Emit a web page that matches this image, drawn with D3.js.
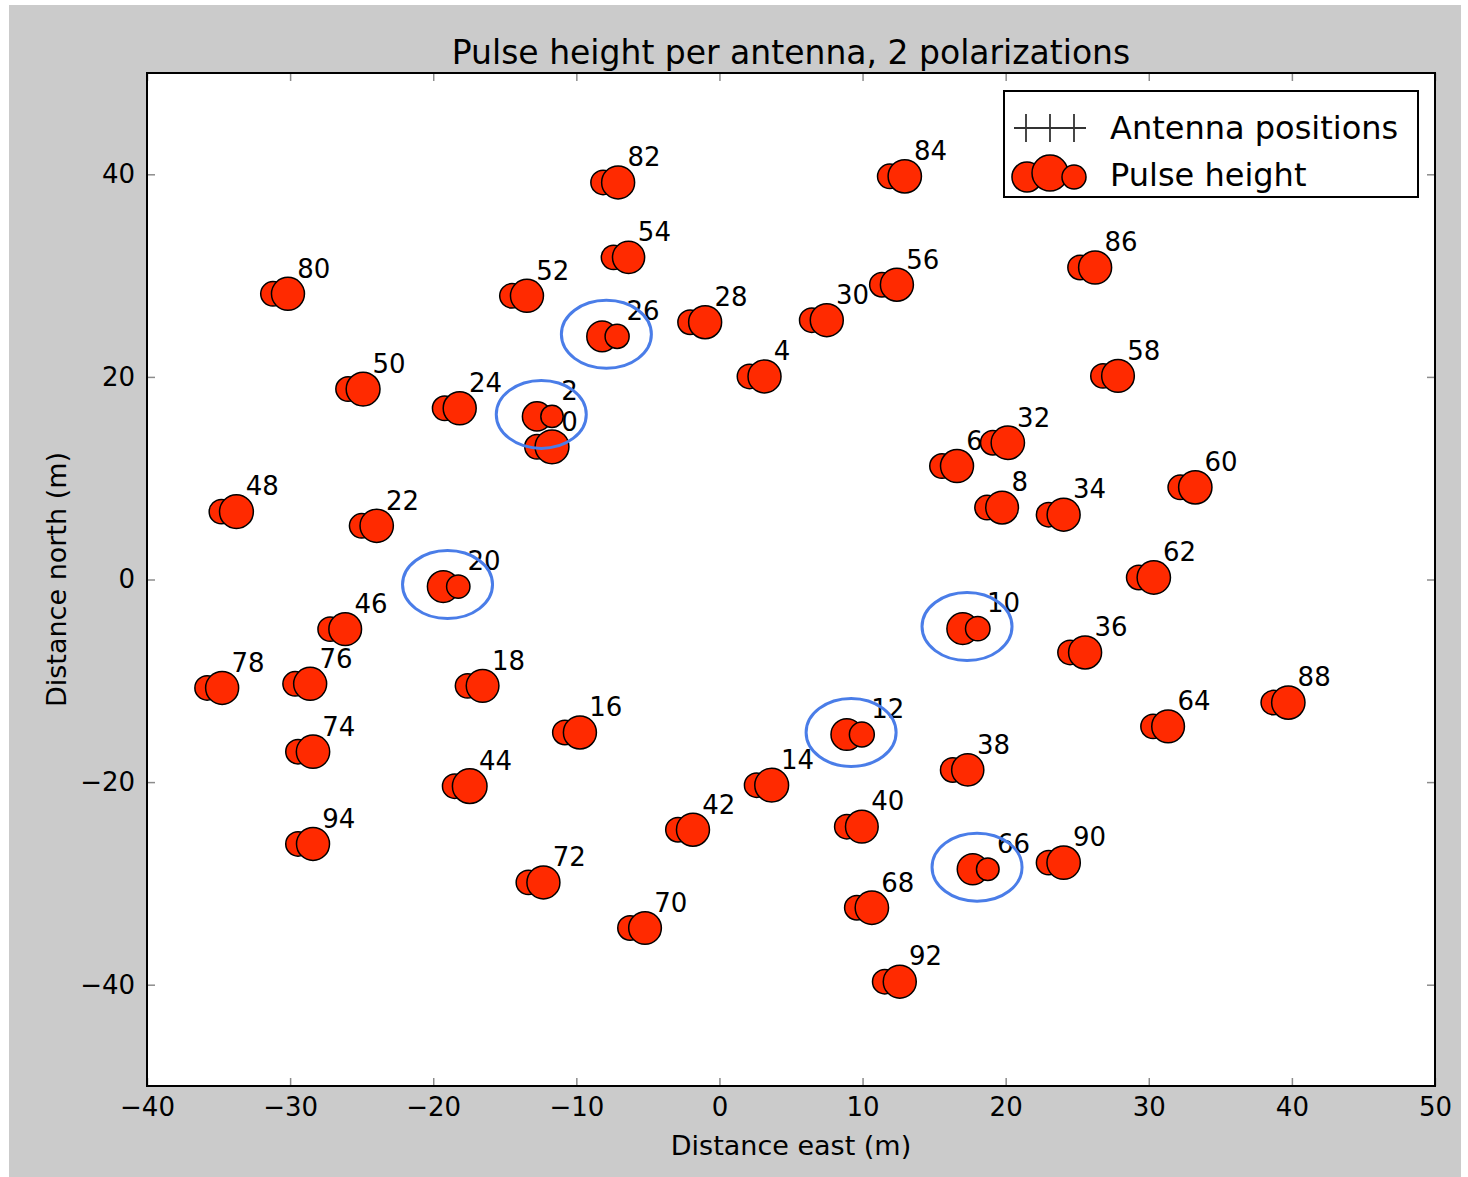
<!DOCTYPE html>
<html lang="en">

<head>
    <meta charset="UTF-8">
    <title>Pulse height per antenna</title>
    <script src="https://cdn.jsdelivr.net/npm/d3@7"></script>
    <style>
        * {
            margin: 0;
        }

        body {
            background: #fff;
        }

        svg text {
            font-family: "DejaVu Sans", Verdana, sans-serif;
        }
    </style>
</head>

<body>
    <svg id="chart" width="1468" height="1177"></svg>
    <script>
        // antenna numbers and positions (m)
        var antennaIds = [0, 2, 4, 6, 8, 10, 12, 14, 16, 18, 20, 22, 24, 26, 28, 30, 32, 34, 36, 38, 40, 42, 44, 46,
            48, 50, 52, 54, 56, 58, 60, 62, 64, 66, 68, 70, 72, 74, 76, 78, 80, 82, 84, 86, 88, 90, 92, 94];
        var eastPos = [-12.75, -12.75, 2.1, 15.55, 18.7, 17.0, 8.9, 2.6, -10.8, -17.6, -19.3, -25.0, -19.2, -8.2,
            -2.05, 6.45, 19.1, 23.0, 24.5, 16.3, 8.9, -2.9, -18.5, -27.2, -34.8, -25.95, -14.5, -7.4, 11.35, 26.8,
            32.2, 29.3, 30.3, 17.7, 9.6, -6.25, -13.35, -29.45, -29.65, -35.8, -31.2, -8.13, 11.9, 25.2, 38.7, 23.0,
            11.55, -29.45];
        var northPos = [13.1, 16.1, 20.05, 11.2, 7.1, -4.85, -15.3, -20.3, -15.1, -10.5, -0.7, 5.3, 16.9, 24.0,
            25.4, 25.6, 13.5, 6.4, -7.2, -18.8, -24.4, -24.7, -20.4, -4.9, 6.7, 18.8, 28.0, 31.8, 29.1, 20.1,
            9.1, 0.2, -14.5, -28.6, -32.4, -34.4, -29.9, -17.0, -10.3, -10.7, 28.2, 39.2, 39.8, 30.8, -12.15, -27.95,
            -39.7, -26.1];
        // pulse heights, polarization 0 and 1 (arbitrary units)
        var pulsePol0 = [0.55, 0.78, 0.55, 0.55, 0.55, 0.92, 0.92, 0.55, 0.55, 0.55, 0.92, 0.55, 0.55, 0.86,
            0.55, 0.55, 0.55, 0.55, 0.55, 0.55, 0.55, 0.55, 0.55, 0.55, 0.55, 0.55, 0.55, 0.55, 0.55, 0.55,
            0.55, 0.55, 0.55, 0.88, 0.55, 0.55, 0.55, 0.55, 0.55, 0.55, 0.55, 0.55, 0.55, 0.55, 0.55, 0.55,
            0.55, 0.55];
        var pulsePol1 = [1.05, 0.46, 1.0, 1.0, 0.98, 0.55, 0.57, 1.05, 1.0, 0.98, 0.5, 1.02, 1.0, 0.53,
            1.0, 1.0, 1.02, 1.0, 1.0, 0.95, 0.98, 1.0, 1.1, 0.98, 1.05, 1.05, 1.0, 0.95, 1.0, 0.98,
            1.02, 1.02, 0.98, 0.47, 1.02, 0.98, 1.0, 1.02, 1.0, 1.0, 1.0, 1.0, 1.02, 1.0, 1.02, 1.02,
            1.0, 1.0];
        // antennas marked by hand with an ellipse
        var flagged = [2, 10, 12, 20, 26, 66];

        var xTicks = [-40, -30, -20, -10, 0, 10, 20, 30, 40, 50];
        var yTicks = [-40, -20, 0, 20, 40];
        var legendLabels = ["Antenna positions", "Pulse height"];
        var legendSizes = [0.83, 1.19, 0.53];

        var svg = d3.select("#chart");

        // figure background
        svg.append("rect")
            .attr("x", 9).attr("y", 5)
            .attr("width", 1452).attr("height", 1172)
            .attr("fill", "#cbcbcb");

        var x = d3.scaleLinear().domain([-40, 50]).range([147, 1435]);
        var y = d3.scaleLinear().domain([-50, 50]).range([1086, 73]);
        var r = d3.scaleSqrt().domain([0, 1]).range([0, 16.5]);

        // plot area
        svg.append("rect")
            .attr("x", x(-40)).attr("y", y(50))
            .attr("width", x(50) - x(-40)).attr("height", y(-50) - y(50))
            .attr("fill", "#fff");

        var data = antennaIds.map(function (id, i) {
            return { id: id, e: eastPos[i], n: northPos[i], p0: pulsePol0[i], p1: pulsePol1[i] };
        });

        // antenna labels (drawn under the markers)
        svg.append("g").selectAll("text")
            .data(data)
            .enter()
            .append("text")
            .attr("x", function (d) { return x(d.e + 1.7); })
            .attr("y", function (d) { return y(d.n + 1.6); })
            .attr("font-size", 26)
            .attr("fill", "#000")
            .text(function (d) { return d.id; });

        // polarization 0 at the antenna, polarization 1 shifted 1 m east
        svg.append("g").selectAll("circle")
            .data(data)
            .enter()
            .append("circle")
            .attr("cx", function (d) { return x(d.e); })
            .attr("cy", function (d) { return y(d.n); })
            .attr("r", function (d) { return r(d.p0); })
            .attr("fill", "#ff2a00")
            .attr("stroke", "#000")
            .attr("stroke-width", 1.5);

        svg.append("g").selectAll("circle")
            .data(data)
            .enter()
            .append("circle")
            .attr("cx", function (d) { return x(d.e + 1.05); })
            .attr("cy", function (d) { return y(d.n); })
            .attr("r", function (d) { return r(d.p1); })
            .attr("fill", "#ff2a00")
            .attr("stroke", "#000")
            .attr("stroke-width", 1.5);

        // hand drawn ellipses
        svg.append("g").selectAll("ellipse")
            .data(data.filter(function (d) { return flagged.indexOf(d.id) >= 0; }))
            .enter()
            .append("ellipse")
            .attr("cx", function (d) { return x(d.e + 0.3); })
            .attr("cy", function (d) { return y(d.n + 0.2); })
            .attr("rx", 45)
            .attr("ry", 34)
            .attr("fill", "none")
            .attr("stroke", "#4a7de8")
            .attr("stroke-width", 3);

        // axes, ticks pointing inward
        function styleAxis(g) {
            g.select(".domain").remove();
            g.selectAll(".tick line").attr("stroke", "#8c8c8c").attr("stroke-width", 1.5);
            g.selectAll(".tick text").attr("font-size", 26).attr("fill", "#000")
                .attr("font-family", "DejaVu Sans");
        }

        svg.append("g")
            .attr("transform", "translate(0," + y(-50) + ")")
            .call(d3.axisBottom(x).tickValues(xTicks).tickSize(-8).tickPadding(12))
            .call(styleAxis);
        svg.append("g")
            .attr("transform", "translate(0," + y(50) + ")")
            .call(d3.axisTop(x).tickValues(xTicks).tickSize(-8).tickFormat(""))
            .call(styleAxis);
        svg.append("g")
            .attr("transform", "translate(" + x(-40) + ",0)")
            .call(d3.axisLeft(y).tickValues(yTicks).tickSize(-8).tickPadding(12))
            .call(styleAxis);
        svg.append("g")
            .attr("transform", "translate(" + x(50) + ",0)")
            .call(d3.axisRight(y).tickValues(yTicks).tickSize(-8).tickFormat(""))
            .call(styleAxis);

        // frame
        svg.append("rect")
            .attr("x", x(-40)).attr("y", y(50))
            .attr("width", x(50) - x(-40)).attr("height", y(-50) - y(50))
            .attr("fill", "none")
            .attr("stroke", "#000")
            .attr("stroke-width", 2);

        // title and axis labels
        svg.append("text")
            .attr("x", (x(-40) + x(50)) / 2).attr("y", 64)
            .attr("text-anchor", "middle")
            .attr("font-size", 33)
            .text("Pulse height per antenna, 2 polarizations");

        svg.append("text")
            .attr("x", (x(-40) + x(50)) / 2).attr("y", 1155)
            .attr("text-anchor", "middle")
            .attr("font-size", 27)
            .text("Distance east (m)");

        svg.append("text")
            .attr("transform", "translate(66," + (y(-50) + y(50)) / 2 + ") rotate(-90)")
            .attr("text-anchor", "middle")
            .attr("font-size", 27)
            .text("Distance north (m)");

        // legend
        var legend = svg.append("g").attr("transform", "translate(1004,91)");
        legend.append("rect")
            .attr("width", 414).attr("height", 106)
            .attr("fill", "#fff")
            .attr("stroke", "#000")
            .attr("stroke-width", 2);

        var plusX = [22, 46, 70];
        plusX.forEach(function (px) {
            legend.append("path")
                .attr("d", "M" + (px - 12) + ",37H" + (px + 12) + "M" + px + ",23V51")
                .attr("stroke", "#333")
                .attr("stroke-width", 1.8)
                .attr("fill", "none");
        });

        var dotX = [23, 46, 70];
        var dotY = [86, 82, 86];
        legendSizes.forEach(function (v, i) {
            legend.append("circle")
                .attr("cx", dotX[i]).attr("cy", dotY[i])
                .attr("r", r(v))
                .attr("fill", "#ff2a00")
                .attr("stroke", "#000")
                .attr("stroke-width", 1.5);
        });

        legend.selectAll("text.lbl")
            .data(legendLabels)
            .enter()
            .append("text")
            .attr("class", "lbl")
            .attr("x", 106)
            .attr("y", function (d, i) { return 48 + i * 47; })
            .attr("font-size", 32)
            .text(function (d) { return d; });
    </script>
</body>

</html>
